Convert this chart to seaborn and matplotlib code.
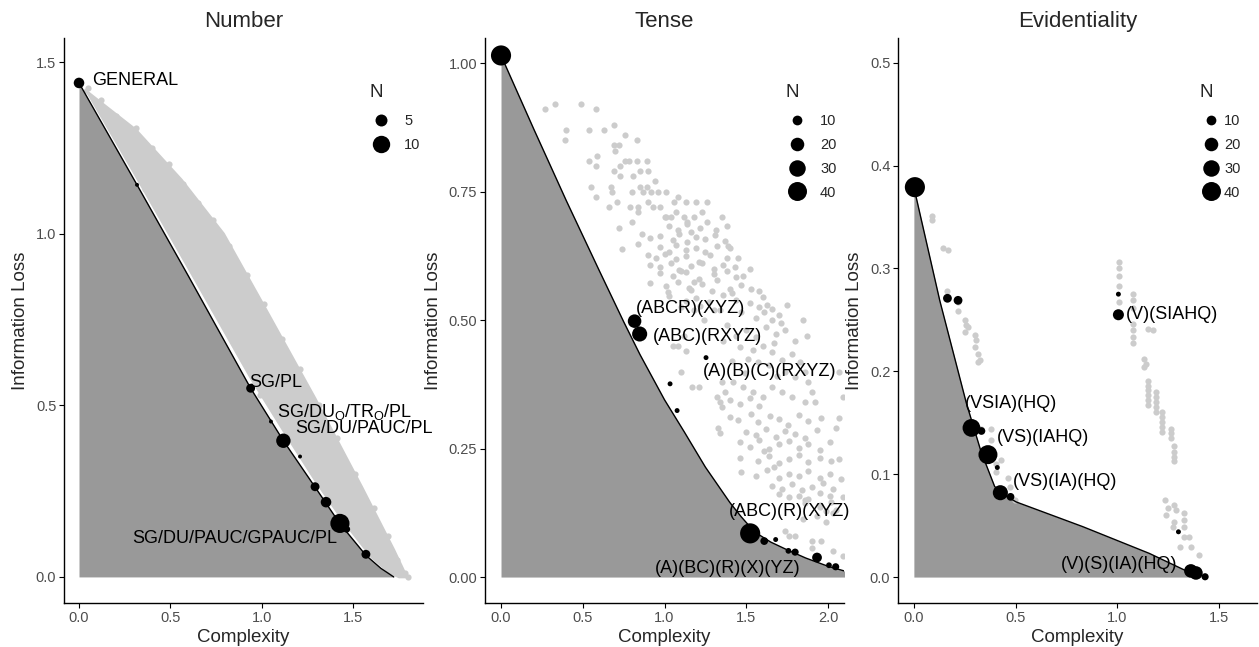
import numpy as np
import pandas as pd
import seaborn as sns
import matplotlib.pyplot as plt
from matplotlib.lines import Line2D

sns.set_theme(style="ticks")
plt.rcParams['font.family'] = ['Liberation Sans', 'DejaVu Sans']

FILL = '#999999'
CLOUD = '#CCCCCC'
TICKCOL = '#4D4D4D'

# ---------------- Number ----------------
num_front_x = [0.0, 0.317, 0.6, 0.938, 1.117, 1.29, 1.426, 1.568, 1.65, 1.72]
num_front_y = [1.44, 1.143, 0.875, 0.55, 0.397, 0.262, 0.155, 0.063, 0.025, 0.0]
# simulated systems form a dense band; outline of that band
num_cloud_top_x = [0.03, 0.31, 0.56, 0.79, 1.01, 1.29, 1.545, 1.72, 1.79]
num_cloud_top_y = [1.42, 1.303, 1.157, 1.0, 0.79, 0.52, 0.262, 0.079, 0.0]
num_cloud_bot_x = [1.75, 1.70, 1.60, 1.45, 1.30, 1.12, 0.94, 0.60, 0.30, 0.05]
num_cloud_bot_y = [0.0, 0.012, 0.058, 0.16, 0.275, 0.425, 0.58, 0.9, 1.18, 1.41]
# loose simulated systems on the rim of the band
num_sim_x = [0.05, 0.12, 0.2, 0.31, 0.4, 0.49, 0.57, 0.65, 0.73, 0.82, 0.92, 1.01, 1.11, 1.21, 1.31,
             1.41, 1.51, 1.61, 1.69, 1.74, 1.78, 1.8,
             0.36, 0.55, 0.74, 0.99, 1.14, 1.21, 1.32, 1.47, 1.62, 1.70]
num_sim_y = [1.425, 1.39, 1.345, 1.31, 1.25, 1.205, 1.145, 1.09, 1.04, 0.965, 0.88, 0.795, 0.695,
             0.605, 0.5, 0.405, 0.3, 0.2, 0.12, 0.05, 0.012, 0.0,
             1.13, 0.96, 0.78, 0.53, 0.42, 0.36, 0.28, 0.15, 0.06, 0.02]
num_lang_x = [0.0, 0.317, 0.938, 1.049, 1.117, 1.208, 1.290, 1.350, 1.426, 1.463, 1.568]
num_lang_y = [1.44, 1.143, 0.550, 0.453, 0.397, 0.351, 0.263, 0.218, 0.156, 0.139, 0.066]
num_lang_n = [4, 1, 3, 1, 7, 1, 3, 4, 12, 2, 3]
num_lab_text = ['GENERAL', 'SG/PL', r'SG/DU$_\mathregular{O}$/TR$_\mathregular{O}$/PL',
                'SG/DU/PAUC/PL', 'SG/DU/PAUC/GPAUC/PL']
num_lab_x = [0.07, 0.929, 1.082, 1.18, 0.85]
num_lab_y = [1.446, 0.566, 0.481, 0.434, 0.111]
num_lab_ha = ['left', 'left', 'left', 'left', 'center']
num_legend = [5, 10]

# ---------------- Tense ----------------
tense_front_x = [0.0, 0.2, 0.4, 0.6, 0.75, 0.85, 1.0, 1.12, 1.25, 1.4, 1.47, 1.52, 1.58,
                 1.65, 1.75, 1.864, 2.0, 2.12]
tense_front_y = [1.015, 0.872, 0.732, 0.597, 0.497, 0.433, 0.345, 0.283, 0.214, 0.145, 0.117,
                 0.099, 0.082, 0.068, 0.053, 0.037, 0.021, 0.01]
tense_sim_x = [
    0.49, 0.58, 0.40, 0.39, 0.54, 0.63, 0.69, 0.76, 0.69, 0.72, 0.83, 0.70, 0.54, 0.59, 0.58, 0.76,
    0.78, 0.83, 0.89, 0.69, 0.73, 0.73, 0.81, 0.85, 0.90, 0.55, 0.67, 0.68, 0.58, 0.80, 0.85, 0.89,
    0.94, 0.87, 0.92, 0.96, 0.71, 0.66, 0.79, 0.84, 0.90, 0.93, 1.01, 1.08, 1.13, 1.06, 1.19, 1.26,
    0.97, 1.00, 1.01, 0.72, 0.80, 0.84, 1.04, 1.07, 1.12, 1.14, 1.18, 1.23, 1.35, 0.27, 0.33,
    1.03, 1.085, 1.135, 1.165, 1.215, 1.262, 1.318, 1.384,
    0.86, 0.91, 0.97, 1.05, 1.09, 1.14, 1.19, 1.25, 1.31, 1.37, 1.39,
    0.84, 0.74, 0.97, 1.03, 1.07, 1.13, 1.19, 1.25, 1.32,
    0.90, 0.95, 1.00, 1.07, 1.13, 1.21, 1.28, 1.38,
    0.91, 0.97, 1.04, 1.09, 1.16, 1.23, 1.30, 1.36, 1.43,
    0.97, 1.05, 1.13, 1.21, 1.30, 1.38, 1.44,
    0.91, 1.01, 1.08, 1.15, 1.23, 1.32, 1.40, 1.47, 1.58,
    1.03, 1.13, 1.19, 1.27, 1.36, 1.44, 1.52, 1.60, 1.66, 1.66,
    1.02, 1.10, 1.16, 1.22, 1.29, 1.34, 1.41, 1.47, 1.53, 1.58, 1.63, 1.48, 1.52, 1.45, 1.40,
    1.10, 1.18, 1.56, 1.61, 1.71, 1.67,
    1.38, 1.44, 1.50, 1.56, 1.62, 1.68, 1.74, 1.80, 1.46, 1.54, 1.60, 1.66, 1.36, 1.78,
    1.41, 1.51, 1.57, 1.64, 1.72, 1.83, 1.49, 1.69,
    1.05, 1.12, 1.18, 1.24, 1.30, 1.70, 1.75, 1.85, 1.87,
    1.08, 1.13, 1.10, 1.17, 1.21, 1.35, 1.37, 1.34, 1.35, 1.33, 1.34, 1.32,
    1.40, 1.46, 1.52, 1.58,
    1.40, 1.45, 1.53, 1.57, 1.645, 1.70, 1.755, 1.825, 1.875, 1.955,
    1.50, 1.56, 1.62, 1.68, 1.74, 1.80, 1.86, 1.93,
    1.46, 1.52, 1.58, 1.64, 1.70, 1.76, 1.82, 1.88, 1.95, 2.01,
    1.46, 1.57, 1.64, 1.70, 1.76, 1.82, 1.88, 1.95, 2.02,
    1.47, 1.56, 1.63, 1.70, 1.76, 1.82, 1.88, 1.95, 2.01,
    1.66, 1.72, 1.78, 1.84, 1.90, 1.97, 2.03,
    1.70, 1.76, 1.82, 1.88, 1.95, 2.01,
    1.86, 1.95, 2.02, 1.99, 2.05,
    1.86, 1.88, 1.90, 1.74, 1.80, 1.66, 1.72, 1.78, 1.86, 1.92, 1.48, 1.54, 1.60, 1.42, 2.07, 2.05, 2.07,
    1.74, 1.76, 1.90, 1.96, 2.09, 1.80, 1.90, 2.03, 1.86, 1.95, 2.03, 2.09,
    2.08, 2.09, 2.07, 1.99, 1.93, 1.85, 1.61, 1.67,
]
tense_sim_y = [
    0.92, 0.91, 0.87, 0.85, 0.87, 0.87, 0.88, 0.86, 0.84, 0.84, 0.85, 0.83, 0.81, 0.82, 0.80, 0.81,
    0.81, 0.81, 0.81, 0.79, 0.80, 0.78, 0.78, 0.79, 0.79, 0.76, 0.76, 0.75, 0.74, 0.75, 0.76, 0.76,
    0.77, 0.75, 0.75, 0.75, 0.73, 0.72, 0.72, 0.72, 0.73, 0.72, 0.75, 0.74, 0.73, 0.73, 0.73, 0.73,
    0.72, 0.70, 0.70, 0.68, 0.69, 0.71, 0.70, 0.71, 0.70, 0.69, 0.70, 0.71, 0.70, 0.91, 0.92,
    0.684, 0.676, 0.688, 0.671, 0.680, 0.690, 0.675, 0.683,
    0.668, 0.659, 0.664, 0.655, 0.667, 0.652, 0.662, 0.657, 0.666, 0.654, 0.645,
    0.648, 0.638, 0.643, 0.633, 0.646, 0.637, 0.641, 0.632, 0.644,
    0.626, 0.621, 0.628, 0.618, 0.624, 0.613, 0.627, 0.620,
    0.608, 0.603, 0.611, 0.598, 0.606, 0.612, 0.600, 0.607, 0.603,
    0.592, 0.585, 0.594, 0.580, 0.589, 0.596, 0.584,
    0.572, 0.567, 0.575, 0.563, 0.570, 0.578, 0.561, 0.569, 0.557,
    0.546, 0.538, 0.543, 0.535, 0.548, 0.540, 0.533, 0.545, 0.522, 0.500,
    0.555, 0.525, 0.558, 0.528, 0.557, 0.520, 0.552, 0.515, 0.560, 0.525, 0.530, 0.585, 0.600, 0.620, 0.640,
    0.595, 0.575, 0.505, 0.515, 0.495, 0.455,
    0.490, 0.470, 0.480, 0.467, 0.486, 0.473, 0.480, 0.460, 0.447, 0.441, 0.450, 0.437, 0.460, 0.434,
    0.420, 0.425, 0.418, 0.412, 0.422, 0.418, 0.398, 0.392,
    0.450, 0.470, 0.520, 0.500, 0.520, 0.510, 0.530, 0.500, 0.470,
    0.450, 0.440, 0.400, 0.370, 0.370, 0.380, 0.360, 0.340, 0.330, 0.290, 0.280, 0.350,
    0.345, 0.336, 0.348, 0.333,
    0.312, 0.305, 0.318, 0.302, 0.314, 0.307, 0.296, 0.316, 0.303, 0.310,
    0.283, 0.276, 0.288, 0.272, 0.285, 0.279, 0.270, 0.287,
    0.262, 0.254, 0.266, 0.250, 0.258, 0.264, 0.252, 0.259, 0.248, 0.262,
    0.232, 0.226, 0.236, 0.222, 0.229, 0.237, 0.224, 0.231, 0.226,
    0.204, 0.197, 0.208, 0.193, 0.201, 0.196, 0.206, 0.192, 0.200,
    0.178, 0.171, 0.181, 0.169, 0.176, 0.183, 0.172,
    0.162, 0.155, 0.158, 0.151, 0.164, 0.157,
    0.144, 0.140, 0.147, 0.128, 0.131,
    0.400, 0.380, 0.360, 0.400, 0.390, 0.370, 0.360, 0.350, 0.340, 0.340, 0.370, 0.360, 0.350, 0.380, 0.230, 0.290, 0.310,
    0.090, 0.080, 0.070, 0.070, 0.040, 0.080, 0.056, 0.050, 0.150, 0.137, 0.124, 0.156,
    0.190, 0.350, 0.400, 0.108, 0.118, 0.112, 0.245, 0.215,
]
tense_lang_x = [0.0, 0.817, 0.848, 1.034, 1.077, 1.254, 1.524, 1.61, 1.68, 1.758, 1.799, 1.933, 2.006, 2.047]
tense_lang_y = [1.015, 0.498, 0.473, 0.376, 0.324, 0.427, 0.085, 0.070, 0.073, 0.051, 0.0485, 0.038, 0.023, 0.020]
tense_lang_n = [45, 20, 25, 2, 2, 2, 45, 6, 2, 3, 5, 10, 3, 5]
tense_lab_text = ['(ABCR)(XYZ)', '(ABC)(RXYZ)', '(A)(B)(C)(RXYZ)', '(ABC)(R)(XYZ)', '(A)(BC)(R)(X)(YZ)']
tense_lab_x = [0.823, 0.929, 1.234, 1.392, 0.939]
tense_lab_y = [0.522, 0.468, 0.40, 0.127, 0.017]
tense_lab_ha = ['left'] * 5
tense_legend = [10, 20, 30, 40]

# ---------------- Evidentiality ----------------
evid_front_x = [0.0, 0.127, 0.258, 0.33, 0.397, 0.45, 0.503, 0.83, 1.157, 1.36]
evid_front_y = [0.379, 0.269, 0.169, 0.122, 0.088, 0.079, 0.073, 0.049, 0.023, 0.004]
evid_sim_x = [
    0.087, 0.087, 0.144, 0.168, 0.165, 0.217, 0.217, 0.25, 0.258, 0.25, 0.266, 0.299, 0.304, 0.299,
    0.315, 0.324, 0.315, 0.33, 0.38, 0.38, 0.405, 0.43, 0.405, 0.462, 0.47, 0.495,
    1.006, 1.006, 1.006, 1.006, 1.006, 1.075, 1.075, 1.075, 1.075, 1.075, 1.075, 1.075, 1.152, 1.174,
    1.132, 1.141, 1.132, 1.149, 1.149, 1.149, 1.149, 1.149, 1.149, 1.19, 1.19, 1.19, 1.19, 1.19,
    1.219, 1.219, 1.219, 1.219, 1.219, 1.263, 1.263, 1.263, 1.279, 1.279, 1.279, 1.279,
    1.235, 1.247, 1.239, 1.279, 1.288, 1.279, 1.328, 1.328, 1.328, 1.328, 1.31, 1.353, 1.361, 1.402, 1.271,
]
evid_sim_y = [
    0.351, 0.347, 0.320, 0.318, 0.278, 0.267, 0.259, 0.250, 0.245, 0.238, 0.243, 0.235, 0.230, 0.224,
    0.217, 0.211, 0.209, 0.144, 0.144, 0.133, 0.110, 0.114, 0.102, 0.096, 0.088, 0.075,
    0.306, 0.300, 0.293, 0.283, 0.267, 0.275, 0.269, 0.262, 0.246, 0.240, 0.233, 0.228, 0.241, 0.240,
    0.212, 0.207, 0.204, 0.191, 0.186, 0.182, 0.177, 0.172, 0.167, 0.180, 0.175, 0.170, 0.165, 0.160,
    0.160, 0.156, 0.151, 0.146, 0.141, 0.144, 0.140, 0.135, 0.127, 0.122, 0.117, 0.113,
    0.075, 0.067, 0.060, 0.070, 0.065, 0.054, 0.062, 0.055, 0.049, 0.039, 0.029, 0.039, 0.029, 0.021, 0.049,
]
evid_lang_x = [0.005, 0.165, 0.217, 1.005, 1.005, 0.283, 0.332, 0.364, 0.410, 0.425, 0.475, 1.30, 1.361, 1.386, 1.431]
evid_lang_y = [0.379, 0.271, 0.269, 0.275, 0.255, 0.145, 0.142, 0.119, 0.1065, 0.082, 0.078, 0.044, 0.006, 0.004, 0.0003]
evid_lang_n = [45, 8, 8, 2, 13, 35, 6, 40, 2, 25, 6, 2, 20, 20, 5]
evid_lab_text = ['(V)(SIAHQ)', '(VSIA)(HQ)', '(VS)(IAHQ)', '(VS)(IA)(HQ)', '(V)(S)(IA)(HQ)']
evid_lab_x = [1.043, 0.25, 0.41, 0.487, 0.724]
evid_lab_y = [0.255, 0.169, 0.136, 0.0925, 0.0123]
evid_lab_ha = ['left'] * 5
evid_legend = [10, 20, 30, 40]

panels = [
    dict(title='Number', fx=num_front_x, fy=num_front_y, sx=num_sim_x, sy=num_sim_y,
         lx=num_lang_x, ly=num_lang_y, ln=num_lang_n, nrange=(1, 12), srange=(8, 190),
         tt=num_lab_text, tx=num_lab_x, ty=num_lab_y, ha=num_lab_ha, leg=num_legend,
         xlim=(-0.082, 1.88), ylim=(-0.076, 1.571),
         xticks=[0, 0.5, 1.0, 1.5], xtl=['0.0', '0.5', '1.0', '1.5'],
         yticks=[0, 0.5, 1.0, 1.5], ytl=['0.0', '0.5', '1.0', '1.5'],
         legpos=(0.85, 0.918), textpad=0.8),
    dict(title='Tense', fx=tense_front_x, fy=tense_front_y, sx=tense_sim_x, sy=tense_sim_y,
         lx=tense_lang_x, ly=tense_lang_y, ln=tense_lang_n, nrange=(1, 45), srange=(8, 210),
         tt=tense_lab_text, tx=tense_lab_x, ty=tense_lab_y, ha=tense_lab_ha, leg=tense_legend,
         xlim=(-0.098, 2.098), ylim=(-0.0505, 1.049),
         xticks=[0, 0.5, 1.0, 1.5, 2.0], xtl=['0.0', '0.5', '1.0', '1.5', '2.0'],
         yticks=[0, 0.25, 0.5, 0.75, 1.0], ytl=['0.00', '0.25', '0.50', '0.75', '1.00'],
         legpos=(0.836, 0.918), textpad=0.8),
    dict(title='Evidentiality', fx=evid_front_x, fy=evid_front_y, sx=evid_sim_x, sy=evid_sim_y,
         lx=evid_lang_x, ly=evid_lang_y, ln=evid_lang_n, nrange=(1, 45), srange=(8, 210),
         tt=evid_lab_text, tx=evid_lab_x, ty=evid_lab_y, ha=evid_lab_ha, leg=evid_legend,
         xlim=(-0.078, 1.686), ylim=(-0.0252, 0.524),
         xticks=[0, 0.5, 1.0, 1.5], xtl=['0.0', '0.5', '1.0', '1.5'],
         yticks=[0, 0.1, 0.2, 0.3, 0.4, 0.5], ytl=['0.0', '0.1', '0.2', '0.3', '0.4', '0.5'],
         legpos=(0.839, 0.918), textpad=0.1),
]

fig = plt.figure(figsize=(12.59, 6.47), dpi=100)
lefts = [64, 485, 898]
for i, (p, left) in enumerate(zip(panels, lefts)):
    ax = fig.add_axes([left / 1259, 44 / 647, 359 / 1259, 565 / 647])

    # area below the optimal frontier
    ax.fill_between(p['fx'], 0, p['fy'], color=FILL, linewidth=0, zorder=1)

    # simulated (hypothetical) systems
    if i == 0:
        cx = num_cloud_top_x + num_cloud_bot_x
        cy = num_cloud_top_y + num_cloud_bot_y
        ax.fill(cx, cy, color=CLOUD, linewidth=2, edgecolor=CLOUD, zorder=2)
    sim = pd.DataFrame({'x': p['sx'], 'y': p['sy']})
    sns.scatterplot(data=sim, x='x', y='y', color=CLOUD, s=20, linewidth=0,
                    ax=ax, zorder=2, legend=False)

    # frontier
    front = pd.DataFrame({'x': p['fx'], 'y': p['fy']})
    sns.lineplot(data=front, x='x', y='y', color='black', linewidth=1.0, sort=False,
                 estimator=None, ax=ax, zorder=3)

    # attested languages
    lang = pd.DataFrame({'x': p['lx'], 'y': p['ly'], 'N': p['ln']})
    sns.scatterplot(data=lang, x='x', y='y', size='N', sizes=p['srange'],
                    size_norm=p['nrange'], color='black', linewidth=0,
                    legend=False, ax=ax, zorder=4)

    for t, x, y, ha in zip(p['tt'], p['tx'], p['ty'], p['ha']):
        ax.text(x, y, t, ha=ha, va='center', fontsize=13, color='black', zorder=5)

    # size legend
    n0, n1 = p['nrange']
    s0, s1 = p['srange']
    handles = [Line2D([], [], marker='o', ls='', color='black', markeredgewidth=0,
                      markersize=np.sqrt(s0 + (n - n0) / (n1 - n0) * (s1 - s0)))
               for n in p['leg']]
    lg = ax.legend(handles, [str(n) for n in p['leg']], title='N', loc='upper left',
                   bbox_to_anchor=p['legpos'], frameon=False, fontsize=10.5,
                   title_fontsize=13.5, labelspacing=0.68, handletextpad=p['textpad'],
                   handlelength=1.6, borderpad=0, borderaxespad=0)
    lg._legend_box.align = 'left'
    lg._legend_box.sep = 9

    ax.set_xlim(p['xlim'])
    ax.set_ylim(p['ylim'])
    ax.set_xticks(p['xticks'])
    ax.set_xticklabels(p['xtl'])
    ax.set_yticks(p['yticks'])
    ax.set_yticklabels(p['ytl'])
    ax.tick_params(axis='both', labelsize=10.5, labelcolor=TICKCOL, color='black',
                   length=3.5, width=0.8, pad=2)
    for side in ['top', 'right']:
        ax.spines[side].set_visible(False)
    for side in ['left', 'bottom']:
        ax.spines[side].set_color('black')
        ax.spines[side].set_linewidth(1.0)
    ax.set_xlabel('Complexity', fontsize=13.5, labelpad=3)
    ax.set_ylabel('Information Loss', fontsize=13.5, labelpad=5)
    ax.set_title(p['title'], fontsize=16, pad=8)

fig.savefig('out.png', dpi=100)
